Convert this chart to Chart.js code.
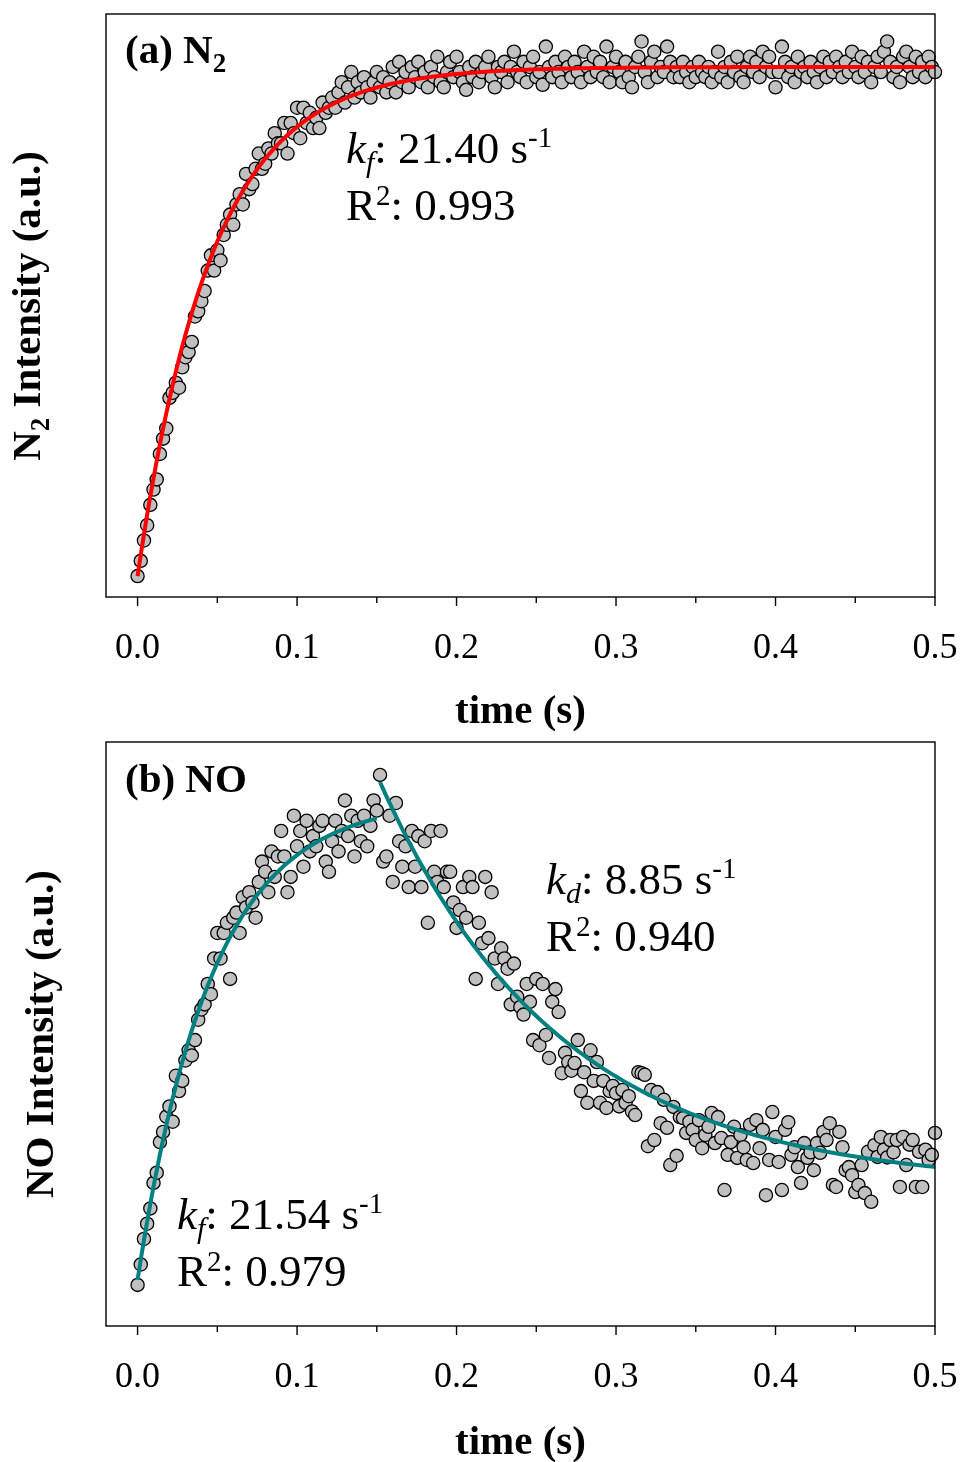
<!DOCTYPE html>
<html>
<head>
<meta charset="utf-8">
<script src="https://cdn.jsdelivr.net/npm/chart.js@4.4.0/dist/chart.umd.min.js"></script>
<style>
  body { margin: 0; background: #fff; }
  canvas { position: absolute; left: 0; }
</style>
</head>
<body>
<canvas id="panelA" width="962" height="731" style="top:0"></canvas>
<canvas id="panelB" width="962" height="734" style="top:728px"></canvas>
<script>
// sampling interval of the transients (s)
const dt = 0.002

const xTicks = [0, 0.1, 0.2, 0.3, 0.4, 0.5]
const xTickLabels = ['0.0', '0.1', '0.2', '0.3', '0.4', '0.5']
const xMinorTicks = [0.05, 0.15, 0.25, 0.35, 0.45]

// N2 signal, normalised
const n2 = [
    .00, .03, .07, .10, .14, .17, .19, .24, .27, .29,
    .35, .36, .38, .37, .41, .43, .44, .46, .51, .52,
    .54, .56, .60, .63, .60, .64, .62, .67, .69, .71,
    .69, .73, .75, .73, .79, .76, .77, .80, .83, .80,
    .81, .84, .83, .87, .85, .85, .89, .83, .89, .87,
    .92, .86, .92, .89, .91, .88, .90, .88, .93, .91,
    .92, .94, .92, .95, .97, .93, .96, .99, .94, .97,
    .95, .98, .96, .94, .97, .99, .96, .98, .95, .97,
    1.00, .95, 1.01, .97, .99, .96, 1.00, .98, 1.01, .97,
    .99, .96, 1.00, .98, 1.02, .97, .96, .99, 1.01, .98,
    1.02, .99, .97, .955, 1.00, .98, 1.01, .97, .99, 1.00,
    1.02, .98, .96, 1.00, .99, 1.01, .97, 1.00, 1.03, .99,
    .98, 1.01, .97, 1.00, 1.02, .98, .99, .965, 1.04, 1.00,
    .98, 1.01, .99, .97, 1.02, 1.00, .98, 1.01, .99, .97,
    1.03, 1.00, .98, 1.02, .99, 1.01, .98, 1.04, .97, 1.00,
    1.02, .99, .97, 1.01, .98, .96, 1.00, 1.02, 1.05, .99,
    .97, 1.01, 1.03, .98, 1.00, .99, 1.04, 1.01, .98, 1.00,
    .98, 1.01, .99, .97, 1.00, .98, 1.01, .99, .98, 1.00,
    .97, .99, 1.03, .98, 1.00, .97, 1.01, .99, 1.02, .98,
    .97, 1.00, 1.02, .99, 1.01, .98, 1.03, 1.00, 1.02, .99,
    .96, .99, 1.04, 1.01, .98, 1.00, .97, 1.02, .99, 1.00,
    .98, 1.01, .99, .97, 1.00, 1.02, .98, 1.01, .99, 1.02,
    1.00, .98, 1.01, .99, 1.03, 1.00, .98, 1.02, .99, 1.01,
    .97, 1.00, 1.02, .99, 1.03, 1.05, 1.01, .98, 1.00, .97,
    1.02, 1.03, 1.00, .98, 1.02, .99, 1.01, .98, 1.02, 1.00,
    .99
]

// NO signal, normalised
const no = [
    .01, .05, .10, .13, .16, .21, .23, .29, .31, .34,
    .36, .33, .42, .39, .41, .45, .47, .46, .49, .53,
    .55, .56, .60, .58, .65, .70, .65, .70, .72, .61,
    .73, .74, .70, .77, .75, .78, .76, .73, .80, .84,
    .82, .78, .86, .81, .85, .90, .85, .78, .81, .93,
    .87, .90, .83, .92, .86, .89, .87, .91, .92, .84,
    .82, .88, .92, .86, .90, .96, .89, .93, .85, .92,
    .88, .93, .87, .91, .96, .94, 1.01, .84, .85, .93,
    .80, .955, .88, .83, .87, .79, .90, .83, .89, .79,
    .88, .72, .90, .82, .80, .90, .79, .82, .82, .76,
    .71, .745, .79, .73, .81, .79, .61, .72, .68, .81,
    .69, .78, .65, .60, .67, .65, .63, .56, .64, .575,
    .555, .54, .60, .565, .49, .61, .48, .60, .50, .455,
    .565, .59, .545, .425, .465, .447, .43, .445, .49, .39,
    .427, .367, .47, .41, .447, .367, .41, .357, .39, .40,
    .386, .36, .392, .367, .38, .35, .343, .427, .425, .422,
    .282, .392, .294, .388, .327, .373, .318, .245, .359, .263,
    .339, .337, .308, .33, .314, .294, .333, .278, .304, .32,
    .347, .288, .339, .298, .196, .265, .29, .32, .259, .304,
    .28, .255, .324, .249, .333, .278, .314, .186, .255, .349,
    .30, .251, .196, .314, .329, .265, .28, .241, .21, .288,
    .259, .27, .235, .288, .269, .31, .294, .327, .206, .202,
    .31, .28, .235, .241, .225, .192, .206, .245, .19, .271,
    .173, .284, .261, .30, .275, .26, .294, .27, .294, .202,
    .30, .245, .285, .294, .202, .271, .202, .275, .255, .265,
    .308
]

// fitted rate constants
const kfN2 = 21.40
const kfNO = 21.54
const kdNO = 8.85
const r2N2 = 0.993
const r2NOf = 0.979
const r2NOd = 0.940

// NO: formation up to tSwitch, decay after it
const tSwitch = 0.15
const tDecay = 0.152

const serif = '"Liberation Serif", "Times New Roman", serif'
Chart.defaults.font.family = serif
Chart.defaults.color = '#000'

const toPoints = arr => arr.map((v, i) => ({ x: i * dt, y: v }))
const times = n2.map((v, i) => i * dt)

const fitN2 = times.map(t => ({ x: t, y: 1 - Math.exp(-kfN2 * t) }))
const fitNOf = times.filter(t => t <= tSwitch + 1e-9)
    .map(t => ({ x: t, y: 0.02 + 0.942 * (1 - Math.exp(-kfNO * t)) }))
const fitNOd = times.filter(t => t >= tDecay - 1e-9)
    .map(t => ({ x: t, y: 0.205 + 0.791 * Math.exp(-kdNO * (t - tDecay)) }))

function scatterSet(arr) {
    return {
        data: toPoints(arr),
        showLine: false,
        pointRadius: 6.6,
        pointBorderWidth: 1.3,
        pointBackgroundColor: '#c0c0c0',
        pointBorderColor: '#000',
        clip: false,
        order: 2
    }
}
function fitSet(pts, color) {
    return {
        data: pts,
        showLine: true,
        pointRadius: 0,
        borderColor: color,
        borderWidth: 4,
        fill: false,
        order: 1
    }
}

// writes pieces of text one after the other (sub/superscripts, italics)
function textRun(ctx, x, y, parts) {
    for (const p of parts) {
        ctx.font = p.font
        ctx.fillText(p.text, x, y + (p.dy || 0))
        x += ctx.measureText(p.text).width
    }
    return x
}
function runWidth(ctx, parts) {
    let w = 0
    for (const p of parts) {
        ctx.font = p.font
        w += ctx.measureText(p.text).width
    }
    return w
}

const big = '45px ' + serif
const bigIt = 'italic 45px ' + serif
const subIt = 'italic 30px ' + serif
const sup = '29px ' + serif
const bold = 'bold 41px ' + serif
const boldSub = 'bold 27px ' + serif

function rateLabel(x, y, k, sub, val, r2) {
    return [
        { x, y, parts: [
            { text: k, font: bigIt },
            { text: sub, font: subIt, dy: 9 },
            { text: ': ' + val.toFixed(2) + ' s', font: big },
            { text: '-1', font: sup, dy: -16 }
        ] },
        { x, y: y + 57, parts: [
            { text: 'R', font: big },
            { text: '2', font: sup, dy: -15 },
            { text: ': ' + r2.toFixed(3), font: big }
        ] }
    ]
}

// frame, tick marks, y title and labels
function decor(yTitle, labels) {
    return {
        id: 'decor',
        afterDraw(chart) {
            const { ctx, chartArea: a, scales: { x } } = chart
            ctx.save()
            ctx.strokeStyle = '#000'
            ctx.lineWidth = 1.4
            ctx.strokeRect(a.left, a.top, a.right - a.left, a.bottom - a.top)
            ctx.beginPath()
            xTicks.forEach(v => {
                const px = x.getPixelForValue(v)
                ctx.moveTo(px, a.bottom)
                ctx.lineTo(px, a.bottom + 9)
            })
            xMinorTicks.forEach(v => {
                const px = x.getPixelForValue(v)
                ctx.moveTo(px, a.bottom)
                ctx.lineTo(px, a.bottom + 6)
            })
            ctx.stroke()

            ctx.fillStyle = '#000'
            ctx.textAlign = 'left'
            ctx.textBaseline = 'alphabetic'

            ctx.save()
            ctx.translate(yTitle.x, yTitle.y)
            ctx.rotate(-Math.PI / 2)
            textRun(ctx, -runWidth(ctx, yTitle.parts) / 2, 0, yTitle.parts)
            ctx.restore()

            labels.forEach(l => textRun(ctx, l.x, l.y, l.parts))
            ctx.restore()
        }
    }
}

function makeChart(id, datasets, yMin, yMax, padTop, axisBottom, yTitle, labels) {
    const canvas = document.getElementById(id)
    return new Chart(canvas, {
        type: 'scatter',
        data: { datasets },
        options: {
            responsive: false,
            animation: false,
            devicePixelRatio: 1,
            layout: { padding: { left: 106, right: 27, top: padTop, bottom: 0 } },
            plugins: { legend: { display: false }, tooltip: { enabled: false } },
            scales: {
                x: {
                    type: 'linear',
                    min: -0.0198,
                    max: 0.5,
                    afterBuildTicks: s => { s.ticks = xTicks.map(v => ({ value: v })) },
                    afterFit: s => {
                        s.height = canvas.height - axisBottom
                        s.paddingLeft = 0
                        s.paddingRight = 0
                    },
                    grid: { display: false, drawTicks: false },
                    border: { display: false },
                    ticks: {
                        color: '#000',
                        font: { size: 36 },
                        padding: 30,
                        maxRotation: 0,
                        autoSkip: false,
                        callback: (v, i) => xTickLabels[i]
                    },
                    title: {
                        display: true,
                        text: 'time (s)',
                        color: '#000',
                        font: { size: 41, weight: 'bold', lineHeight: 0.9 },
                        padding: 0
                    }
                },
                y: { display: false, min: yMin, max: yMax }
            }
        },
        plugins: [decor(yTitle, labels)]
    })
}

makeChart('panelA',
    [fitSet(fitN2, '#ff0000'), scatterSet(n2)],
    -0.041, 1.104, 14, 597,
    { x: 40, y: 306, parts: [
        { text: 'N', font: bold },
        { text: '2', font: boldSub, dy: 9 },
        { text: ' Intensity (a.u.)', font: bold }
    ] },
    [
        { x: 125, y: 63, parts: [
            { text: '(a) N', font: bold },
            { text: '2', font: boldSub, dy: 9 }
        ] },
        ...rateLabel(346, 163, 'k', 'f', kfN2, r2N2)
    ])

makeChart('panelB',
    [fitSet(fitNOf, '#008080'), fitSet(fitNOd, '#008080'), scatterSet(no)],
    -0.0706, 1.0745, 14, 598,
    { x: 53, y: 306, parts: [{ text: 'NO Intensity (a.u.)', font: bold }] },
    [
        { x: 125, y: 64, parts: [{ text: '(b) NO', font: bold }] },
        ...rateLabel(546, 166, 'k', 'd', kdNO, r2NOd),
        ...rateLabel(177, 501, 'k', 'f', kfNO, r2NOf)
    ])
</script>
</body>
</html>
